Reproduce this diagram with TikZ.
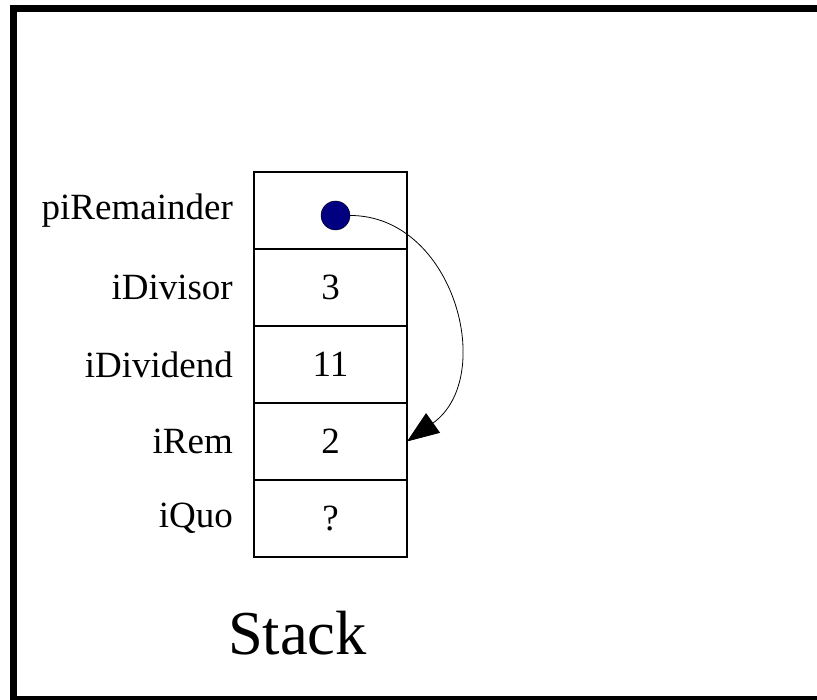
\documentclass[tikz,border=0pt]{standalone}
\usepackage{fontspec}
\setmainfont{Liberation Serif}
\usetikzlibrary{positioning,arrows.meta}

\definecolor{ptrblue}{RGB}{0,0,128}

\tikzset{
  cell/.style={draw, line width=1.2pt, minimum width=153pt, minimum height=77pt,
    inner sep=0pt, outer sep=0pt, font=\fontsize{37}{44}\selectfont},
  var/.style={inner sep=0pt, font=\fontsize{37}{44}\selectfont},
}

\begin{document}
\begin{tikzpicture}[x=1pt,y=1pt,node distance=0pt]
  \useasboundingbox (0,0) rectangle (817,700);
  % frame
  \draw[line width=7.5pt] (830,691.5) -| (13.5,0.5) -- (830,0.5);

  % stack cells
  \node[cell] (pirem) at (330.5,489.5) {};
  \node[cell, below=of pirem] (idivisor) {3};
  \node[cell, below=of idivisor] (idividend) {11};
  \node[cell, below=of idividend] (irem) {2};
  \node[cell, below=of irem] (iquo) {?};

  % variable names
  \node[var, left=21pt of pirem] (l_pirem) {piRemainder};
  \node[var, left=21pt of idivisor] (l_idivisor) {iDivisor};
  \node[var, left=21pt of idividend] (l_idividend) {iDividend};
  \node[var, left=21pt of irem] (l_irem) {iRem};
  \node[var, left=21pt of iquo] (l_iquo) {iQuo};

  % pointer
  \node[circle, draw, fill=ptrblue, inner sep=0pt, minimum size=29pt]
    (ptr) at ([shift={(5,-5)}]pirem.center) {};
  \draw[-{Triangle[length=32pt,width=24pt]}, line width=0.8pt]
    (ptr.east) .. controls +(104,0) and +(90,64) .. (irem.east);

  \node[anchor=base, inner sep=0pt, font=\fontsize{62.5}{70}\selectfont]
    (title) at (297.5,45) {Stack};
\end{tikzpicture}
\end{document}
